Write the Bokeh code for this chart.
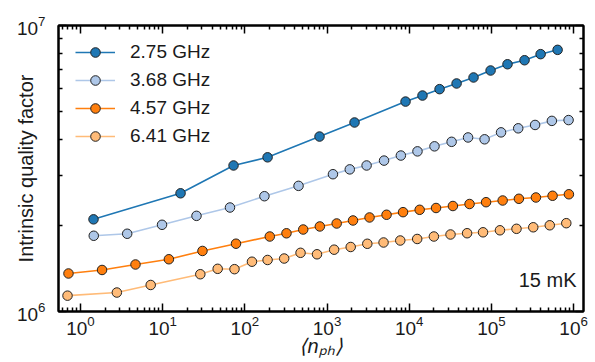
from bokeh.plotting import figure
from bokeh.models import (LogAxis, FixedTicker, LogTickFormatter, CustomJSTickFormatter,
                          Legend, LegendItem, Label)
from bokeh.embed import file_html
from bokeh.resources import INLINE

# ---- data ----
labels = ["2.75 GHz", "3.68 GHz", "4.57 GHz", "6.41 GHz"]
colors = ["#1f77b4", "#aec7e8", "#ff7f0e", "#ffbb78"]

n1 = [1.44, 16.5, 72.8, 189, 810, 2160, 9020, 14500, 23400, 37700, 60600, 97700,
      157000, 253000, 397000, 639000]
q1 = [2.10e6, 2.59e6, 3.24e6, 3.46e6, 4.09e6, 4.58e6, 5.42e6, 5.69e6, 5.99e6, 6.27e6,
      6.58e6, 6.96e6, 7.32e6, 7.56e6, 7.94e6, 8.22e6]

n2 = [1.45, 3.70, 9.82, 25.8, 65.9, 173, 450, 1180, 1890, 3030, 4940, 7910, 12600,
      20300, 32800, 52000, 82600, 131000, 212000, 340000, 544000, 869000]
q2 = [1.84e6, 1.87e6, 2.01e6, 2.16e6, 2.31e6, 2.53e6, 2.75e6, 3.02e6, 3.14e6, 3.24e6,
      3.37e6, 3.51e6, 3.63e6, 3.78e6, 3.92e6, 4.06e6, 4.00e6, 4.23e6, 4.37e6, 4.49e6,
      4.64e6, 4.67e6]

n3 = [0.714, 1.83, 4.67, 11.9, 30.5, 78.0, 201, 321, 513, 817, 1310, 2070, 3290, 5300,
      8410, 13400, 21200, 34000, 54200, 86100, 137000, 216000, 348000, 555000, 877000]
q3 = [1.358e6, 1.397e6, 1.460e6, 1.523e6, 1.628e6, 1.726e6, 1.829e6, 1.877e6, 1.935e6,
      1.983e6, 2.031e6, 2.081e6, 2.132e6, 2.179e6, 2.225e6, 2.268e6, 2.301e6, 2.338e6,
      2.376e6, 2.411e6, 2.444e6, 2.478e6, 2.504e6, 2.539e6, 2.570e6]

n4 = [0.695, 2.77, 7.15, 28.7, 46.7, 74.8, 122, 189, 301, 476, 755, 1220, 1940, 3090,
      4870, 7780, 12500, 19950, 31800, 50600, 79100, 127000, 202000, 323000, 513000, 815000]
q4 = [1.136e6, 1.165e6, 1.238e6, 1.350e6, 1.410e6, 1.406e6, 1.493e6, 1.514e6, 1.532e6,
      1.604e6, 1.585e6, 1.645e6, 1.681e6, 1.725e6, 1.743e6, 1.771e6, 1.793e6, 1.829e6,
      1.859e6, 1.878e6, 1.892e6, 1.923e6, 1.946e6, 1.970e6, 2.002e6, 2.036e6]

xs = [n1, n2, n3, n4]
ys = [q1, q2, q3, q4]

x_major = [1, 10, 100, 1e3, 1e4, 1e5, 1e6]
y_major = [1e6, 1e7]
x_lo, x_hi = 0.54, 1.32e6
x_minor = [m * 10.0 ** k for k in range(-1, 7) for m in range(2, 10)
           if x_lo <= m * 10.0 ** k <= x_hi]
y_minor = [m * 1e6 for m in range(2, 10)]

x_title = "\u27e8n\u209a\u2095\u27e9"
y_title = "Intrinsic quality factor"
note = "15 mK"

FONT = "Liberation Sans"
INK = "#1a1a1a"

p = figure(width=595, height=362, x_axis_type="log", y_axis_type="log",
           x_range=(x_lo, x_hi), y_range=(1e6, 1e7),
           output_backend="svg", toolbar_location=None,
           min_border_left=58, min_border_right=12, min_border_top=25, min_border_bottom=51)
p.xgrid.visible = False
p.ygrid.visible = False
p.outline_line_color = "black"
p.outline_line_width = 2
p.background_fill_color = "white"
p.border_fill_color = "white"

def style_axis(ax, major, minor, show_labels, standoff=4):
    ax.ticker = FixedTicker(ticks=major, minor_ticks=minor)
    ax.axis_line_color = "black"
    ax.axis_line_width = 2
    ax.major_tick_in = 8
    ax.major_tick_out = 0
    ax.minor_tick_in = 4
    ax.minor_tick_out = 0
    ax.major_tick_line_width = 1.5
    ax.minor_tick_line_width = 1.5
    ax.major_tick_line_color = "black"
    ax.minor_tick_line_color = "black"
    ax.major_label_text_font = FONT
    ax.major_label_text_color = INK
    if show_labels:
        ax.formatter = LogTickFormatter()
        ax.major_label_text_font_size = "19px"
        ax.major_label_standoff = standoff
    else:
        ax.formatter = CustomJSTickFormatter(code="return ''")
        ax.major_label_text_font_size = "1px"
        ax.major_label_standoff = 0

xa = p.xaxis[0]
ya = p.yaxis[0]
style_axis(xa, x_major, x_minor, True, 4)
style_axis(ya, y_major, y_minor, True, 13)

ya.axis_label = y_title
ya.axis_label_text_font = FONT
ya.axis_label_text_font_size = "20px"
ya.axis_label_text_font_style = "normal"
ya.axis_label_text_color = INK
ya.axis_label_standoff = -23

xa.axis_label = x_title
xa.axis_label_text_font = FONT
xa.axis_label_text_font_size = "20px"
xa.axis_label_text_font_style = "italic"
xa.axis_label_text_color = INK
xa.axis_label_standoff = -3

top = LogAxis()
right = LogAxis()
style_axis(top, x_major, x_minor, False)
style_axis(right, y_major, y_minor, False)
p.add_layout(top, "above")
p.add_layout(right, "right")

items = []
for lab, col, x, y in zip(labels, colors, xs, ys):
    ln = p.line(x, y, line_color=col, line_width=1.6)
    sc = p.scatter(x, y, size=9.5, fill_color=col, line_color="#222222", line_width=1)
    items.append(LegendItem(label=lab, renderers=[ln, sc]))

legend = Legend(items=items, location=(17, 163))
legend.border_line_color = None
legend.background_fill_alpha = 0
legend.label_text_font = FONT
legend.label_text_font_size = "19px"
legend.label_text_color = INK
legend.glyph_width = 40
legend.glyph_height = 24
legend.label_height = 24
legend.spacing = 4
legend.label_standoff = 15
legend.padding = 0
legend.margin = 0
p.add_layout(legend)

# temperature annotation (inside the frame)
p.add_layout(Label(x=518, y=32, x_units="screen", y_units="screen", text=note,
                   text_align="right", text_baseline="alphabetic",
                   text_font=FONT, text_font_size="20px", text_color=INK))

open("out.html", "w").write(file_html(p, INLINE))
